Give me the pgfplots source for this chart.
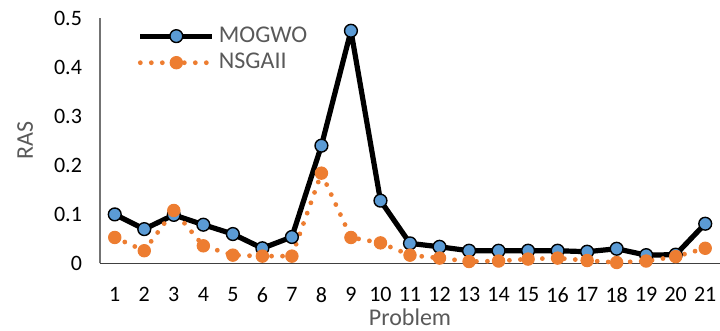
\documentclass[border=0pt]{standalone}
\usepackage{pgfplots}
\pgfplotsset{compat=1.18}
\usepackage{fontspec}
\setmainfont{Carlito}
\definecolor{mblue}{HTML}{5B9BD5}
\definecolor{morange}{HTML}{ED7D31}
\definecolor{tgrey}{HTML}{595959}
\begin{document}
\begin{tikzpicture}
\useasboundingbox (0,0) rectangle (360pt,165.5pt);
\begin{axis}[
  at={(50pt,33.75pt)}, anchor=south west,
  scale only axis, width=310pt, height=122.75pt,
  xmin=0.5, xmax=21.5, ymin=0, ymax=0.5,
  xtick={1,...,21},
  ytick={0,0.1,0.2,0.3,0.4,0.5},
  yticklabels={0,0.1,0.2,0.3,0.4,0.5},
  /pgf/number format/assume math mode=true,
  axis x line*=bottom, axis y line*=left,
  x axis line style={-, draw=black!75, line width=0.6pt},
  y axis line style={-, draw=black!55, line width=0.6pt},
  major tick length=0pt,
  ticklabel style={font=\fontsize{11}{13}\selectfont, text=black},
  xticklabel style={yshift=-8.5pt},
  yticklabel style={xshift=-5.5pt},
  xlabel={Problem}, ylabel={RAS},
  label style={font=\fontsize{12}{14}\selectfont, text=tgrey},
  xlabel style={at={(0.5,0)}, anchor=north, inner sep=0pt, yshift=-22.5pt},
  ylabel style={at={(0,0.5)}, anchor=south, yshift=30pt},
  clip=false,
  legend style={at={(0.057,0.99)}, anchor=north west, draw=none, fill=none,
    font=\fontsize{12}{14}\selectfont, text=tgrey, row sep=0pt,
    inner sep=1pt},
  legend cell align=left,
  legend image code/.code={\draw[mark repeat=2,mark phase=2,#1] plot coordinates {(0pt,0pt) (18pt,0pt) (36pt,0pt)};},
]
\addplot[color=black, line width=2.6pt, line join=round,
  mark=*, mark size=3.2pt, mark options={fill=mblue, draw=black, line width=0.7pt, solid}]
coordinates {
(1,0.100) (2,0.070) (3,0.099) (4,0.079) (5,0.060) (6,0.031) (7,0.054)
(8,0.240) (9,0.474) (10,0.128) (11,0.041) (12,0.034) (13,0.026) (14,0.026)
(15,0.026) (16,0.026) (17,0.024) (18,0.030) (19,0.017) (20,0.018) (21,0.081)
};
\addlegendentry{MOGWO}
\addplot[color=morange, line width=2.4pt, line cap=round, dash pattern=on 0pt off 5.5pt,
  mark=*, mark size=3.1pt, mark options={fill=morange, draw=morange, solid, line width=0.5pt}]
coordinates {
(1,0.053) (2,0.026) (3,0.108) (4,0.036) (5,0.017) (6,0.015) (7,0.015)
(8,0.184) (9,0.053) (10,0.042) (11,0.017) (12,0.011) (13,0.004) (14,0.005)
(15,0.009) (16,0.011) (17,0.006) (18,0.002) (19,0.005) (20,0.014) (21,0.031)
};
\addlegendentry{NSGAII}
\end{axis}
\end{tikzpicture}
\end{document}
